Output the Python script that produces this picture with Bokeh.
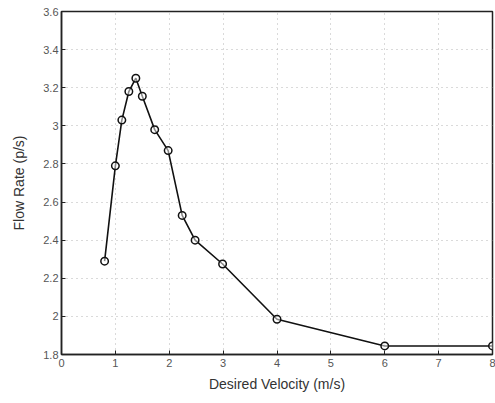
from bokeh.plotting import figure
from bokeh.models import Range1d, FixedTicker
from bokeh.embed import file_html
from bokeh.resources import INLINE

velocity = [0.8, 1.0, 1.12, 1.25, 1.38, 1.5, 1.73, 1.98, 2.24, 2.48, 2.99, 4.0, 6.0, 8.0]
flow_rate = [2.29, 2.79, 3.03, 3.18, 3.25, 3.155, 2.98, 2.87, 2.53, 2.40, 2.275, 1.985, 1.845, 1.845]

x_ticks = [0, 1, 2, 3, 4, 5, 6, 7, 8]
x_labels = ["0", "1", "2", "3", "4", "5", "6", "7", "8"]
y_ticks = [1.8, 2.0, 2.2, 2.4, 2.6, 2.8, 3.0, 3.2, 3.4, 3.6]
y_labels = ["1.8", "2", "2.2", "2.4", "2.6", "2.8", "3", "3.2", "3.4", "3.6"]

FONT = "Liberation Sans"

p = figure(width=495, height=400, output_backend="svg", toolbar_location=None,
           x_range=Range1d(0, 8), y_range=Range1d(1.8, 3.6),
           min_border_left=61, min_border_right=3, min_border_top=11, min_border_bottom=46)

p.outline_line_color = "#222222"
p.outline_line_width = 1.5

for ax, ticks, labels in ((p.xaxis[0], x_ticks, x_labels), (p.yaxis[0], y_ticks, y_labels)):
    ax.ticker = FixedTicker(ticks=ticks)
    ax.major_label_overrides = {t: l for t, l in zip(ticks, labels)}
    ax.major_tick_in = 4
    ax.major_tick_out = 0
    ax.minor_tick_in = 0
    ax.minor_tick_out = 0
    ax.axis_line_color = "#222222"
    ax.axis_line_width = 1.5
    ax.major_tick_line_color = "#222222"
    ax.major_label_text_font = FONT
    ax.major_label_text_font_size = "11px"
    ax.major_label_text_color = "#555555"
    ax.axis_label_text_font = FONT
    ax.axis_label_text_font_size = "14px"
    ax.axis_label_text_font_style = "normal"
    ax.axis_label_text_color = "#333333"

p.xaxis.axis_label = "Desired Velocity (m/s)"
p.yaxis.axis_label = "Flow Rate (p/s)"
p.xaxis.major_label_standoff = 4
p.yaxis.major_label_standoff = 3
p.xaxis.axis_label_standoff = 6
p.yaxis.axis_label_standoff = 13

for g, ticks in ((p.xgrid[0], x_ticks), (p.ygrid[0], y_ticks)):
    g.ticker = FixedTicker(ticks=ticks)
    g.grid_line_color = "#b5b5b5"
    g.grid_line_dash = "1 4"
    g.grid_line_width = 1

p.line(velocity, flow_rate, line_color="#111111", line_width=1.6)
p.scatter(velocity, flow_rate, marker="circle", size=7.5, fill_color="white", fill_alpha=0.5,
          line_color="#111111", line_width=1.5)

open("out.html", "w").write(file_html(p, INLINE))
